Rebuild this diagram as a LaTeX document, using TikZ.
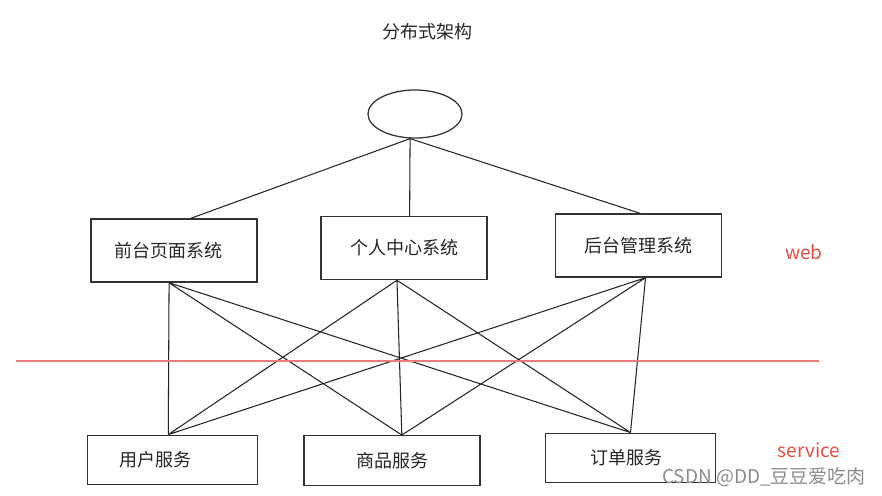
\documentclass[tikz,border=0pt]{standalone}
\usepackage{fontspec}
\setmainfont{Noto Sans CJK SC}
\usetikzlibrary{shapes.geometric}
\definecolor{webred}{RGB}{230,78,68}
\definecolor{linered}{RGB}{236,122,122}
\begin{document}
\begin{tikzpicture}[x=0.025cm,y=-0.025cm]
    \tikzstyle{websys}=[rectangle,draw=black!80,line width=0.9pt,minimum width=4.15cm,minimum height=1.58cm,font=\fontsize{12.8}{15}\selectfont,text=black!85]
    \tikzstyle{service}=[websys,minimum width=4.25cm,minimum height=1.24cm]
    \tikzstyle{gate}=[ellipse,draw=black!80,line width=0.9pt,minimum width=2.35cm,minimum height=1.2cm]
    \tikzstyle{link}=[draw=black!85,line width=0.75pt]
    \tikzstyle{layer}=[text=webred,font=\fontsize{13.5}{16}\selectfont]
    \fill[white] (0,0) rectangle (882,495);
    \useasboundingbox (0,0) rectangle (882,495);

    \node[font=\fontsize{12.8}{15}\selectfont,text=black!85] (title) at (427,32) {分布式架构};
    \node[gate] (gate) at (415,114) {};

    \node[websys] (qiantai) at (174,250.5) {\hspace*{-8pt}前台页面系统};
    \node[websys] (geren)   at (404,248)   {个人中心系统};
    \node[websys] (houtai)  at (638.5,245.5) {后台管理系统};

    \node[service] (yonghu)   at (172.5,460) {\hspace*{-24pt}用户服务};
    \node[service,minimum width=4.4cm] (shangpin) at (392,460.5) {商品服务};
    \node[service] (dingdan)  at (630.5,458) {\hspace*{-6pt}订单服务};

    \coordinate (qiantai-b) at ([xshift=-3.5pt]qiantai.south);
    \coordinate (geren-b)   at ([xshift=-5pt]geren.south);
    \coordinate (houtai-b)  at ([xshift=5pt]houtai.south);
    \coordinate (yonghu-t)  at ([xshift=-3pt]yonghu.north);
    \coordinate (shangpin-t) at ([xshift=7pt]shangpin.north);
    \coordinate (dingdan-t) at (dingdan.north);

    \draw[link] ([xshift=-3.5pt]gate.south) -- ([xshift=12pt]qiantai.north)
                ([xshift=-3.5pt]gate.south) -- ([xshift=4pt]geren.north)
                ([xshift=-3.5pt]gate.south) -- ([xshift=1pt]houtai.north);

    \draw[link] (qiantai-b) -- (yonghu-t)
                (qiantai-b) -- (shangpin-t)
                (qiantai-b) -- (dingdan-t)
                (geren-b)   -- (yonghu-t)
                (geren-b)   -- (shangpin-t)
                (geren-b)   -- (dingdan-t)
                (houtai-b)  -- (yonghu-t)
                (houtai-b)  -- (shangpin-t)
                (houtai-b)  -- (dingdan-t);

    \draw[draw=linered, line width=0.9pt] (16,361) -- (819,361);

    \node[layer] (web) at (804,252) {web};
    \node[layer] (srv) at (809,450) {service};

    \node[text=black!45,font=\fontsize{13.5}{16}\selectfont] (mark) at (764,477) {CSDN @DD\_豆豆爱吃肉};

\end{tikzpicture}
\end{document}
